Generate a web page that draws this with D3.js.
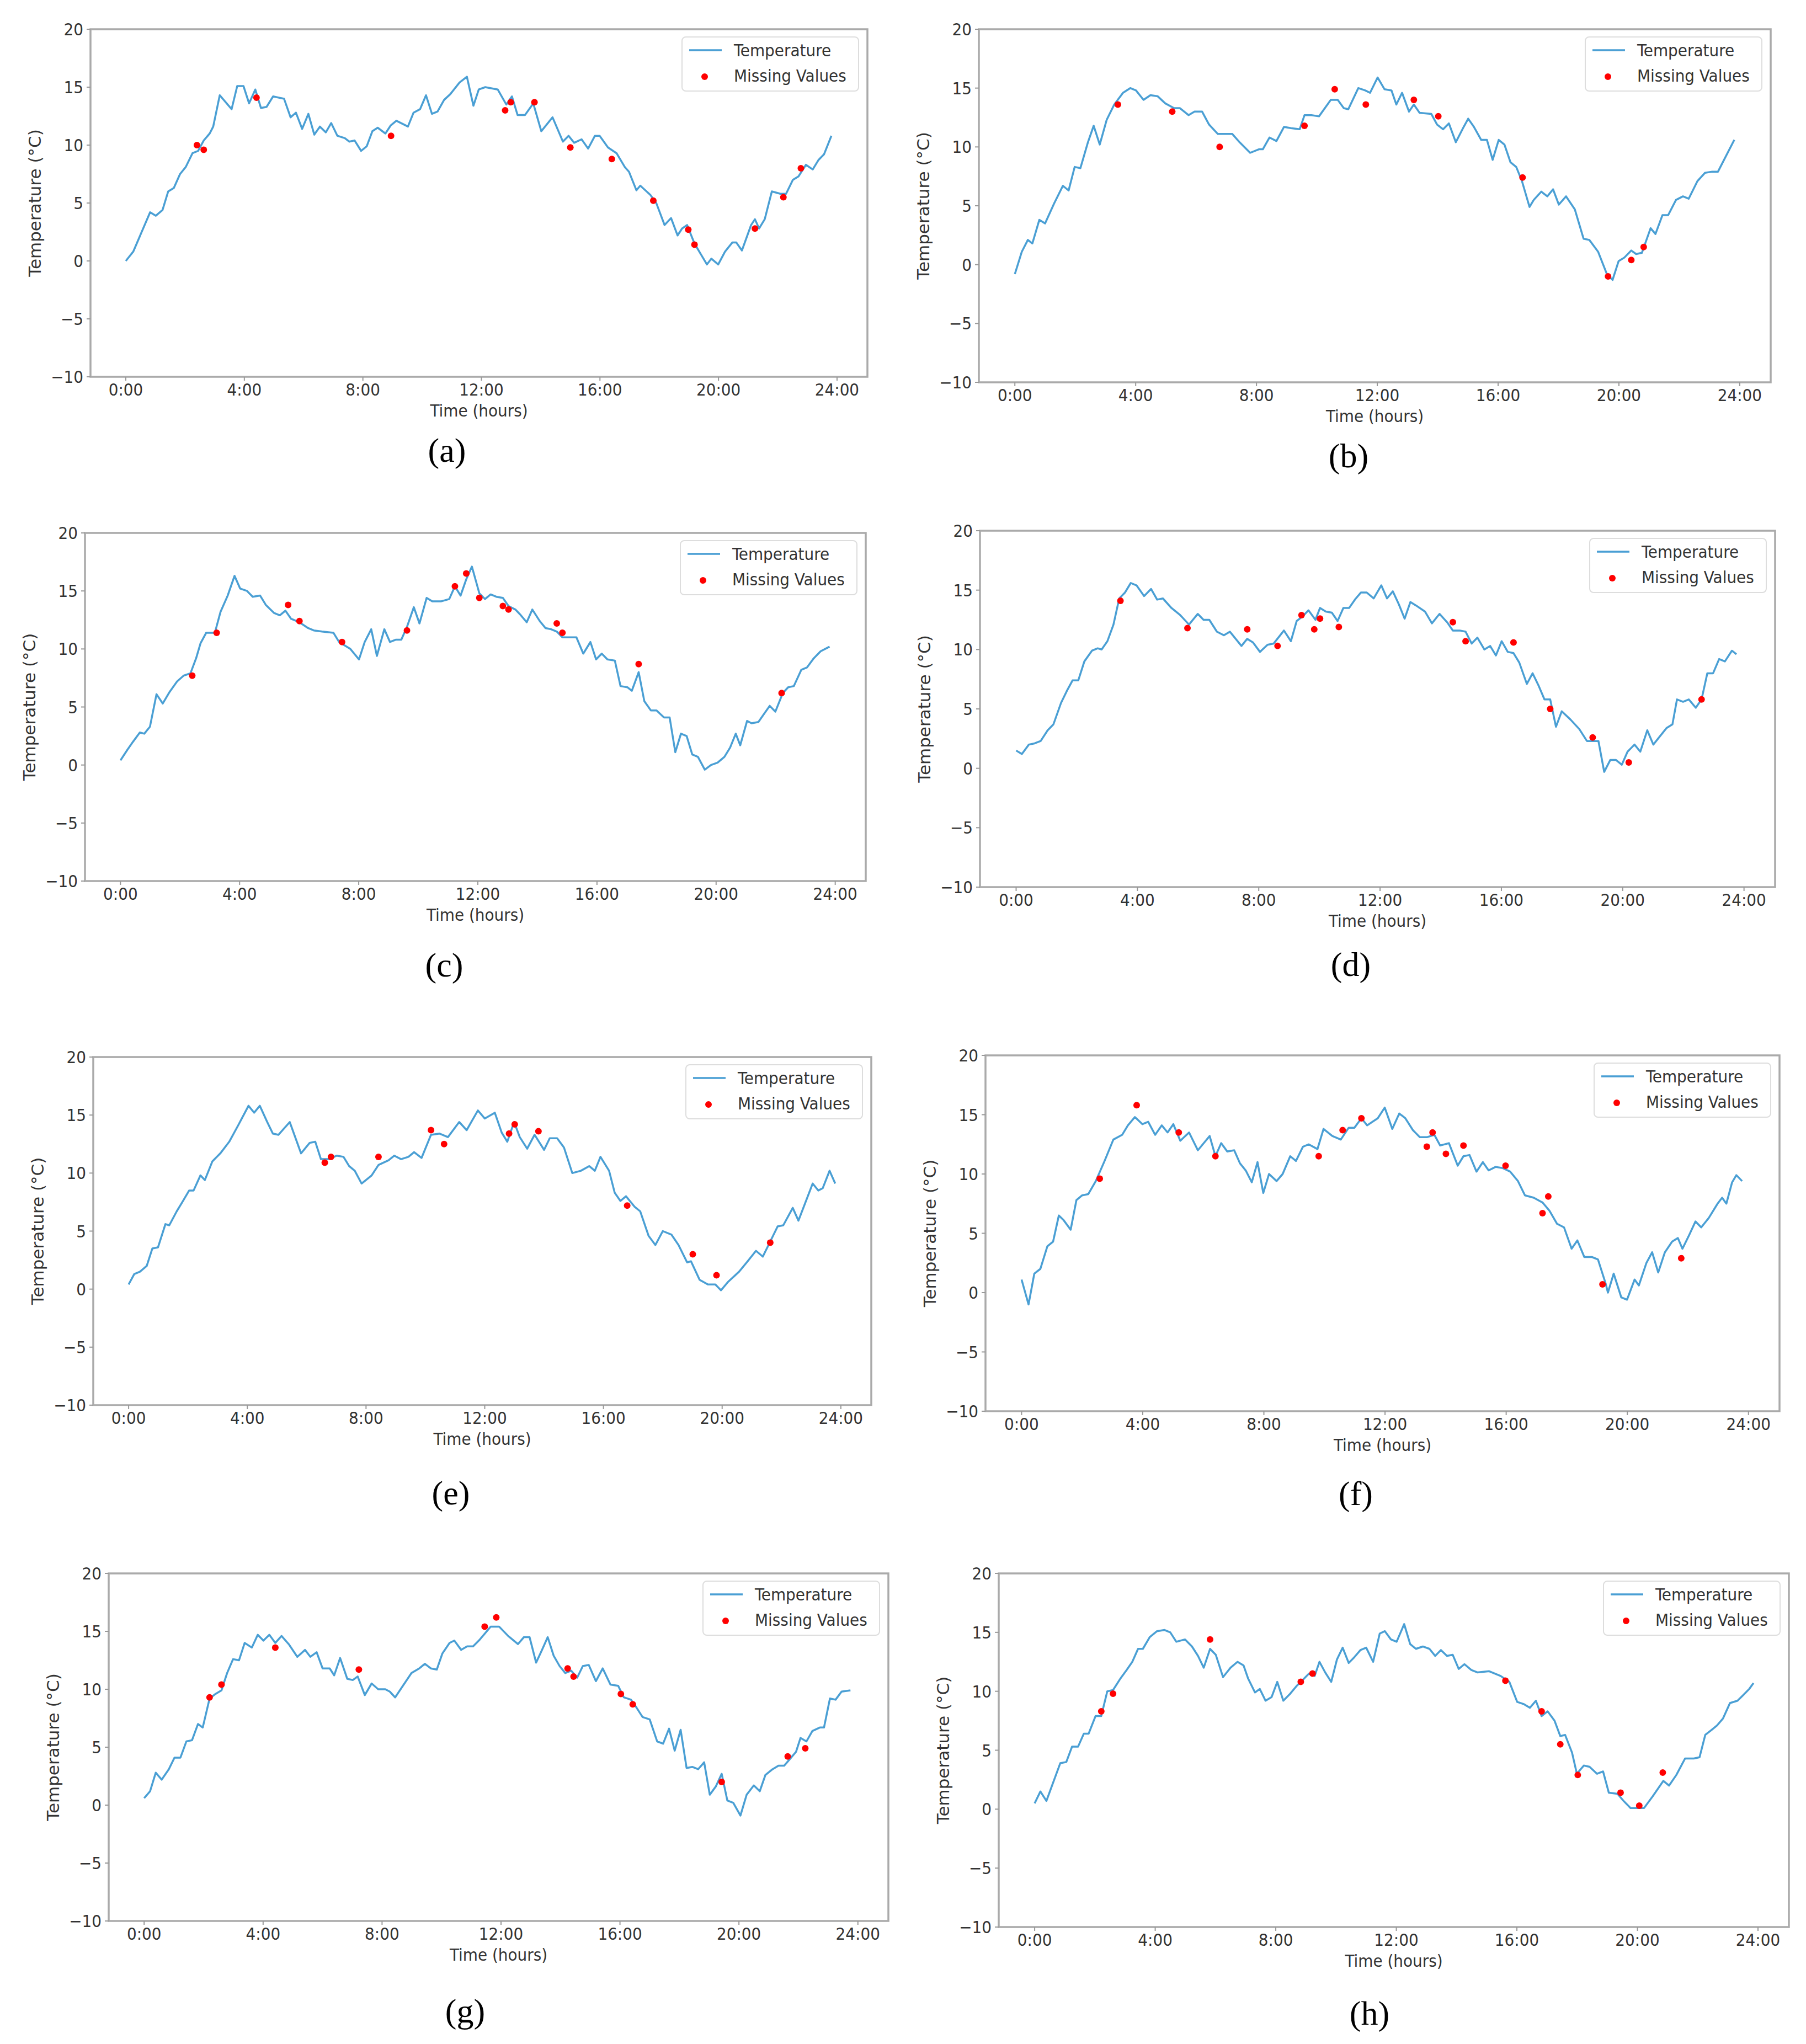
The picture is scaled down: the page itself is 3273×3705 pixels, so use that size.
<!DOCTYPE html>
<html>
<head>
<meta charset="utf-8">
<script src="https://cdn.jsdelivr.net/npm/d3@7"></script>
<style>
  body { margin: 0; background: #fff; }
</style>
</head>
<body>
<div id="chart"></div>
<script>
// temperature traces, [hour, degC]
const tempA = [[0,0],[0.25,0.8],[0.82,4.2],[1.01,3.9],[1.24,4.4],[1.43,6.0],[1.62,6.3],[1.83,7.5],[2.02,8.1],[2.25,9.3],[2.44,9.5],[2.63,10.4],[2.83,11.0],[2.95,11.6],[3.17,14.3],[3.57,13.1],[3.76,15.1],[3.97,15.1],[4.16,13.6],[4.37,14.8],[4.56,13.2],[4.75,13.3],[4.97,14.2],[5.34,14.0],[5.56,12.4],[5.74,12.8],[5.95,11.4],[6.16,12.7],[6.36,10.9],[6.55,11.6],[6.75,11.1],[6.93,11.9],[7.14,10.8],[7.39,10.6],[7.54,10.3],[7.72,10.4],[7.94,9.5],[8.13,9.9],[8.32,11.2],[8.5,11.5],[8.76,11.0],[8.94,11.7],[9.13,12.1],[9.52,11.6],[9.71,12.8],[9.93,13.1],[10.13,14.3],[10.33,12.7],[10.52,12.9],[10.74,13.9],[10.95,14.4],[11.26,15.4],[11.51,15.9],[11.73,13.4],[11.91,14.8],[12.13,15.0],[12.55,14.8],[12.84,13.5],[13.03,14.2],[13.22,12.6],[13.47,12.6],[13.75,13.6],[14.02,11.2],[14.4,12.4],[14.75,10.3],[14.94,10.8],[15.13,10.2],[15.38,10.5],[15.6,9.7],[15.83,10.8],[15.99,10.8],[16.27,9.8],[16.56,9.3],[16.84,8.1],[16.98,7.7],[17.23,6.1],[17.36,6.5],[17.7,5.7],[17.9,5.0],[18.18,3.1],[18.4,3.7],[18.62,2.2],[18.77,2.8],[18.94,3.1],[19.19,1.5],[19.61,-0.3],[19.76,0.2],[19.99,-0.3],[20.22,0.8],[20.47,1.6],[20.6,1.6],[20.79,0.9],[21.1,3.1],[21.23,3.6],[21.37,2.8],[21.56,3.6],[21.8,6.0],[22.09,5.8],[22.28,5.8],[22.51,7.0],[22.7,7.3],[22.95,8.3],[23.18,7.9],[23.37,8.7],[23.56,9.2],[23.81,10.8]]
const missA = [[2.4,10.0],[2.63,9.6],[4.41,14.1],[8.95,10.8],[12.8,13.0],[12.99,13.7],[13.79,13.7],[15.0,9.8],[16.4,8.8],[17.8,5.2],[18.98,2.7],[19.19,1.4],[21.23,2.8],[22.19,5.5],[22.78,8.0]]

const tempB = [[0,-0.8],[0.23,1.1],[0.43,2.1],[0.58,1.8],[0.81,3.8],[1.0,3.5],[1.3,5.2],[1.59,6.7],[1.78,6.3],[1.98,8.3],[2.17,8.2],[2.42,10.4],[2.61,11.8],[2.81,10.2],[3.04,12.3],[3.29,13.6],[3.58,14.6],[3.82,15.0],[4.01,14.8],[4.26,14.0],[4.49,14.4],[4.73,14.3],[4.98,13.7],[5.27,13.3],[5.46,13.3],[5.75,12.7],[5.95,13.0],[6.2,13.0],[6.43,11.9],[6.72,11.1],[7.01,11.1],[7.2,11.1],[7.44,10.4],[7.79,9.5],[8.08,9.8],[8.21,9.8],[8.43,10.8],[8.66,10.5],[8.91,11.7],[9.14,11.6],[9.43,11.5],[9.59,12.7],[9.82,12.7],[10.07,12.6],[10.46,14.0],[10.69,14.0],[10.89,13.3],[11.04,13.2],[11.37,15.0],[11.6,14.8],[11.76,14.6],[12.01,15.9],[12.24,14.9],[12.47,14.8],[12.63,13.6],[12.82,14.6],[13.05,13.0],[13.21,13.6],[13.4,12.9],[13.79,12.8],[13.98,11.9],[14.18,11.5],[14.37,12.0],[14.6,10.4],[14.86,11.7],[15.01,12.4],[15.2,11.7],[15.44,10.6],[15.63,10.6],[15.82,8.9],[16.02,10.6],[16.21,10.2],[16.41,8.7],[16.6,8.3],[16.79,7.1],[17.04,4.9],[17.18,5.5],[17.43,6.2],[17.63,5.8],[17.82,6.4],[18.01,5.1],[18.25,5.8],[18.54,4.7],[18.83,2.2],[19.02,2.1],[19.31,1.1],[19.6,-0.8],[19.79,-1.3],[19.99,0.3],[20.18,0.6],[20.41,1.2],[20.57,0.9],[20.76,1.0],[21.05,3.1],[21.21,2.6],[21.44,4.2],[21.63,4.2],[21.89,5.5],[22.12,5.8],[22.31,5.6],[22.6,7.1],[22.85,7.8],[23.09,7.9],[23.28,7.9],[23.82,10.6]]
const missB = [[3.41,13.6],[5.21,13.0],[6.78,10.0],[9.59,11.8],[10.59,14.9],[11.62,13.6],[13.21,14.0],[14.02,12.6],[16.81,7.4],[19.64,-1.0],[20.41,0.4],[20.82,1.5]]

const tempC = [[0,0.4],[0.23,1.3],[0.42,2.0],[0.65,2.8],[0.8,2.7],[0.99,3.3],[1.21,6.1],[1.42,5.3],[1.65,6.3],[1.9,7.2],[2.12,7.7],[2.35,7.9],[2.54,9.2],[2.69,10.5],[2.88,11.4],[3.17,11.4],[3.36,13.2],[3.6,14.6],[3.83,16.3],[4.02,15.2],[4.25,15.0],[4.44,14.5],[4.69,14.6],[4.88,13.8],[5.16,13.1],[5.35,12.9],[5.54,13.3],[5.73,12.6],[6.01,12.3],[6.3,11.8],[6.49,11.6],[6.77,11.5],[7.15,11.4],[7.34,10.6],[7.72,10.0],[8.01,9.1],[8.2,10.6],[8.42,11.7],[8.61,9.4],[8.86,11.7],[9.05,10.6],[9.24,10.8],[9.43,10.8],[9.62,11.9],[9.85,13.6],[10.04,12.2],[10.28,14.4],[10.47,14.1],[10.76,14.1],[11.04,14.3],[11.23,15.4],[11.42,14.6],[11.61,16.0],[11.8,17.1],[12.05,14.8],[12.24,14.3],[12.43,14.7],[12.62,14.5],[12.84,14.4],[13.03,13.7],[13.26,13.4],[13.41,13.0],[13.64,12.3],[13.83,13.4],[14.08,12.4],[14.27,11.8],[14.46,11.7],[14.65,11.5],[14.84,11.0],[15.12,11.0],[15.31,11.0],[15.54,9.6],[15.78,10.6],[15.97,9.1],[16.16,9.6],[16.35,9.1],[16.6,9.0],[16.79,6.8],[17.02,6.7],[17.17,6.4],[17.4,8.0],[17.59,5.5],[17.81,4.7],[18.0,4.7],[18.25,4.1],[18.44,4.1],[18.63,1.1],[18.82,2.7],[19.01,2.5],[19.2,0.9],[19.39,0.7],[19.62,-0.4],[19.83,0.0],[20.05,0.2],[20.28,0.7],[20.47,1.5],[20.66,2.7],[20.81,1.7],[21.04,3.8],[21.19,3.6],[21.42,3.7],[21.61,4.4],[21.8,5.1],[21.99,4.6],[22.24,6.2],[22.42,6.7],[22.61,6.8],[22.86,8.2],[23.05,8.4],[23.28,9.2],[23.51,9.8],[23.81,10.2]]
const missC = [[2.41,7.7],[3.23,11.4],[5.63,13.8],[6.01,12.4],[7.44,10.6],[9.62,11.6],[11.23,15.4],[11.61,16.5],[12.05,14.4],[12.84,13.7],[13.03,13.4],[14.65,12.2],[14.84,11.4],[17.4,8.7],[22.2,6.2]]

const tempD = [[0,1.5],[0.19,1.2],[0.42,2.0],[0.61,2.1],[0.81,2.3],[1.04,3.2],[1.23,3.7],[1.48,5.5],[1.67,6.5],[1.86,7.4],[2.05,7.4],[2.25,9.0],[2.5,9.9],[2.69,10.1],[2.82,10.0],[3.01,10.7],[3.21,12.1],[3.4,14.3],[3.59,14.8],[3.78,15.6],[3.97,15.4],[4.22,14.5],[4.45,15.1],[4.65,14.2],[4.84,14.3],[5.12,13.5],[5.41,12.9],[5.7,12.1],[5.99,13.0],[6.18,12.5],[6.37,12.5],[6.62,11.5],[6.85,11.2],[7.05,11.5],[7.43,10.3],[7.62,10.9],[7.81,10.6],[8.04,9.8],[8.29,10.4],[8.49,10.5],[8.83,11.6],[9.06,10.7],[9.25,12.4],[9.45,12.8],[9.64,13.3],[9.87,12.5],[10.02,13.5],[10.21,13.2],[10.41,13.1],[10.6,12.4],[10.79,13.5],[10.98,13.5],[11.17,14.2],[11.37,14.8],[11.56,14.8],[11.79,14.3],[12.04,15.4],[12.23,14.3],[12.42,14.9],[12.62,13.8],[12.81,12.6],[13.0,14.0],[13.19,13.7],[13.48,13.2],[13.71,12.2],[13.96,13.0],[14.21,12.3],[14.4,11.6],[14.63,11.6],[14.82,11.5],[15.02,10.5],[15.21,11.0],[15.44,10.0],[15.63,10.3],[15.82,9.5],[16.01,10.7],[16.21,9.8],[16.4,9.7],[16.59,8.9],[16.84,7.1],[17.03,8.0],[17.22,7.0],[17.42,5.8],[17.61,5.8],[17.8,3.5],[17.99,4.8],[18.28,4.1],[18.57,3.3],[18.82,2.3],[19.05,2.3],[19.2,2.3],[19.39,-0.3],[19.59,0.7],[19.78,0.7],[19.97,0.3],[20.16,1.4],[20.39,2.0],[20.58,1.4],[20.81,3.2],[21.01,2.0],[21.26,2.8],[21.45,3.4],[21.64,3.7],[21.79,5.8],[21.99,5.6],[22.18,5.8],[22.41,5.1],[22.6,5.8],[22.79,8.0],[22.98,8.0],[23.18,9.2],[23.37,9.0],[23.6,9.9],[23.75,9.6]]
const missD = [[3.44,14.1],[5.65,11.8],[7.62,11.7],[8.62,10.3],[9.41,12.9],[9.83,11.7],[10.02,12.6],[10.64,11.9],[14.4,12.3],[14.82,10.7],[16.4,10.6],[17.61,5.0],[19.01,2.6],[20.2,0.5],[22.6,5.8]]

const tempE = [[0,0.4],[0.19,1.3],[0.38,1.5],[0.61,2.0],[0.8,3.5],[0.99,3.6],[1.24,5.6],[1.37,5.5],[1.62,6.7],[1.81,7.5],[2.04,8.5],[2.19,8.5],[2.42,9.8],[2.57,9.4],[2.82,11.0],[3.09,11.7],[3.39,12.7],[3.71,14.2],[4.04,15.8],[4.23,15.2],[4.42,15.8],[4.67,14.4],[4.86,13.4],[5.05,13.3],[5.43,14.4],[5.81,11.7],[6.1,12.6],[6.29,12.7],[6.48,11.2],[6.76,11.2],[7.01,11.5],[7.24,11.4],[7.43,10.6],[7.62,10.2],[7.85,9.1],[8.19,9.8],[8.42,10.7],[8.76,11.1],[8.95,11.5],[9.18,11.2],[9.43,11.4],[9.62,11.8],[9.87,11.3],[10.19,13.3],[10.48,13.4],[10.76,13.1],[11.14,14.4],[11.39,13.7],[11.77,15.4],[12.0,14.7],[12.34,15.2],[12.57,13.5],[12.76,12.7],[12.99,14.4],[13.18,13.1],[13.43,12.1],[13.68,13.3],[14.0,12.0],[14.19,13.0],[14.44,13.0],[14.67,12.2],[14.95,10.0],[15.24,10.2],[15.52,10.6],[15.71,10.2],[15.9,11.4],[16.19,10.2],[16.38,8.3],[16.57,7.6],[16.76,8.0],[17.05,7.1],[17.24,6.7],[17.52,4.6],[17.75,3.8],[18.0,5.0],[18.29,4.7],[18.53,3.8],[18.82,2.3],[18.95,2.4],[19.24,0.8],[19.52,0.4],[19.77,0.4],[19.96,-0.1],[20.19,0.6],[20.57,1.5],[20.86,2.4],[21.14,3.3],[21.37,2.8],[21.62,4.1],[21.87,5.4],[22.06,5.5],[22.38,7.0],[22.57,5.9],[23.05,9.1],[23.24,8.5],[23.39,8.7],[23.62,10.2],[23.81,9.1]]
const missE = [[6.61,10.9],[6.82,11.4],[8.42,11.4],[10.19,13.7],[10.63,12.5],[12.82,13.4],[13.01,14.2],[13.81,13.6],[16.8,7.2],[19.01,3.0],[19.81,1.2],[21.62,4.0]]

const tempF = [[0,1.1],[0.23,-1.0],[0.42,1.6],[0.62,2.0],[0.85,3.9],[1.04,4.3],[1.23,6.5],[1.39,6.1],[1.62,5.3],[1.81,7.8],[2.0,8.2],[2.2,8.3],[2.45,9.4],[2.74,11.1],[3.03,12.9],[3.32,13.3],[3.51,14.1],[3.74,14.8],[3.99,14.2],[4.18,14.4],[4.41,13.3],[4.63,14.1],[4.82,13.5],[5.01,14.2],[5.24,12.8],[5.53,13.5],[5.82,12.0],[6.21,13.2],[6.4,11.5],[6.59,12.6],[6.79,11.9],[7.02,12.0],[7.21,10.9],[7.4,10.3],[7.6,9.3],[7.79,11.0],[7.98,8.4],[8.17,10.0],[8.42,9.4],[8.62,10.0],[8.87,11.5],[9.06,11.1],[9.29,12.3],[9.48,12.5],[9.77,12.1],[9.97,13.8],[10.26,13.2],[10.54,12.9],[10.8,13.9],[10.99,13.9],[11.22,14.7],[11.41,14.1],[11.76,14.7],[11.99,15.6],[12.24,13.8],[12.47,15.1],[12.67,14.7],[12.92,13.7],[13.15,13.1],[13.38,13.1],[13.63,13.3],[13.82,12.4],[14.11,12.6],[14.4,10.7],[14.59,11.5],[14.79,11.6],[15.02,10.2],[15.23,11.0],[15.42,10.3],[15.65,10.6],[15.88,10.5],[16.13,10.2],[16.39,9.4],[16.62,8.2],[16.91,8.0],[17.2,7.6],[17.43,6.9],[17.68,5.8],[17.91,5.5],[18.16,3.7],[18.35,4.4],[18.58,3.0],[18.83,3.0],[19.03,2.8],[19.28,0.8],[19.36,0.0],[19.55,1.6],[19.8,-0.4],[19.99,-0.6],[20.24,1.1],[20.38,0.6],[20.63,2.5],[20.82,3.4],[21.02,1.7],[21.24,3.4],[21.48,4.3],[21.67,4.6],[21.82,3.7],[22.05,4.9],[22.25,6.0],[22.44,5.5],[22.69,6.3],[22.98,7.5],[23.13,8.0],[23.27,7.5],[23.46,9.3],[23.6,9.9],[23.79,9.4]]
const missF = [[2.58,9.6],[3.8,15.8],[5.19,13.5],[6.4,11.5],[9.81,11.5],[10.6,13.7],[11.22,14.7],[13.38,12.3],[13.57,13.5],[14.01,11.7],[14.59,12.4],[15.98,10.7],[17.2,6.7],[17.39,8.1],[19.18,0.7],[21.78,2.9]]

const tempG = [[0,0.6],[0.2,1.2],[0.39,2.8],[0.59,2.2],[0.83,3.1],[1.02,4.1],[1.22,4.1],[1.42,5.5],[1.61,5.6],[1.81,7.0],[1.97,6.7],[2.2,9.2],[2.4,9.6],[2.6,9.9],[2.79,11.4],[2.99,12.6],[3.19,12.5],[3.38,14.0],[3.62,13.6],[3.82,14.7],[4.01,14.2],[4.21,14.7],[4.41,14.0],[4.62,14.6],[4.86,13.9],[5.15,12.8],[5.41,13.4],[5.59,12.8],[5.8,13.2],[6.0,11.8],[6.24,11.8],[6.39,11.2],[6.59,12.7],[6.83,10.9],[7.02,10.8],[7.18,11.1],[7.42,9.5],[7.65,10.5],[7.87,10.0],[8.11,10.0],[8.26,9.8],[8.44,9.3],[8.7,10.3],[8.99,11.4],[9.25,11.8],[9.44,12.2],[9.64,11.8],[9.84,11.7],[10.03,13.1],[10.27,14.0],[10.43,14.2],[10.66,13.4],[10.86,13.7],[11.06,13.7],[11.29,14.3],[11.65,15.4],[11.94,15.4],[12.24,14.6],[12.57,13.9],[12.77,14.5],[12.96,14.5],[13.18,12.3],[13.38,13.4],[13.57,14.5],[13.77,12.9],[13.97,12.0],[14.16,11.4],[14.36,11.6],[14.56,11.0],[14.75,12.0],[14.95,12.1],[15.19,10.7],[15.42,11.8],[15.68,10.4],[15.94,10.3],[16.13,9.3],[16.37,9.1],[16.56,8.4],[16.76,7.6],[17.0,7.4],[17.25,5.5],[17.45,5.3],[17.65,6.6],[17.84,4.7],[18.04,6.5],[18.24,3.2],[18.43,3.3],[18.63,3.1],[18.83,3.7],[19.02,0.9],[19.22,1.6],[19.42,2.7],[19.61,0.4],[19.81,0.2],[20.05,-0.9],[20.26,0.9],[20.5,1.7],[20.7,1.2],[20.89,2.6],[21.13,3.1],[21.33,3.4],[21.52,3.4],[21.72,4.0],[21.92,4.6],[22.07,5.8],[22.27,5.5],[22.47,6.4],[22.72,6.7],[22.86,6.7],[23.06,9.2],[23.25,9.1],[23.45,9.8],[23.75,9.9]]
const missG = [[2.2,9.3],[2.6,10.4],[4.41,13.6],[7.22,11.7],[11.45,15.4],[11.84,16.2],[14.24,11.8],[14.44,11.1],[16.03,9.6],[16.43,8.7],[19.42,2.0],[21.64,4.2],[22.23,4.9]]

const tempH = [[0,0.5],[0.19,1.5],[0.39,0.7],[0.62,2.3],[0.85,3.9],[1.05,4.0],[1.24,5.3],[1.44,5.3],[1.63,6.4],[1.79,6.4],[2.02,7.9],[2.21,7.9],[2.41,10.0],[2.6,10.1],[2.85,11.1],[3.05,11.8],[3.24,12.5],[3.43,13.6],[3.59,13.6],[3.82,14.6],[4.06,15.1],[4.31,15.2],[4.5,15.0],[4.7,14.2],[4.99,14.4],[5.22,13.8],[5.42,13.0],[5.61,12.0],[5.82,13.6],[6.01,13.1],[6.25,11.2],[6.5,12.0],[6.73,12.5],[6.93,12.2],[7.08,11.1],[7.31,9.9],[7.47,10.2],[7.66,9.2],[7.86,9.5],[8.05,10.8],[8.25,9.2],[8.48,9.8],[8.71,10.5],[8.91,11.0],[9.1,11.5],[9.29,11.3],[9.45,12.5],[9.64,11.6],[9.84,10.8],[10.03,12.7],[10.22,13.7],[10.42,12.4],[10.61,12.9],[10.81,13.5],[11.0,13.7],[11.23,12.5],[11.45,14.9],[11.62,15.1],[11.82,14.4],[12.01,14.2],[12.26,15.7],[12.46,14.0],[12.65,13.6],[12.88,13.8],[13.1,13.6],[13.29,13.0],[13.48,13.5],[13.68,13.0],[13.87,13.1],[14.07,11.9],[14.26,12.3],[14.49,11.8],[14.69,11.6],[15.08,11.7],[15.46,11.3],[15.75,10.8],[16.01,9.1],[16.24,8.9],[16.43,8.6],[16.63,9.2],[16.82,7.9],[17.02,8.3],[17.25,7.5],[17.44,6.2],[17.6,6.3],[17.83,4.8],[17.99,3.0],[18.22,3.7],[18.41,3.6],[18.66,3.0],[18.86,3.2],[19.05,1.4],[19.34,1.3],[19.54,0.7],[19.77,0.1],[20.02,0.1],[20.22,0.1],[20.51,1.1],[20.86,2.4],[21.05,2.0],[21.29,2.9],[21.58,4.3],[21.87,4.3],[22.06,4.4],[22.25,6.3],[22.45,6.7],[22.64,7.1],[22.84,7.7],[23.07,9.0],[23.32,9.2],[23.52,9.7],[23.71,10.2],[23.85,10.7]]
const missH = [[2.21,8.3],[2.6,9.8],[5.82,14.4],[8.83,10.8],[9.22,11.5],[15.62,10.9],[16.82,8.3],[17.44,5.5],[18.02,2.9],[19.44,1.4],[20.06,0.3],[20.84,3.1]]

const captions = ["(a)", "(b)", "(c)", "(d)", "(e)", "(f)", "(g)", "(h)"]
const yTicks = [-10, -5, 0, 5, 10, 15, 20]
const xTicks = [0, 4, 8, 12, 16, 20, 24]
const legendLabels = ["Temperature", "Missing Values"]

const temps = [tempA, tempB, tempC, tempD, tempE, tempF, tempG, tempH]
const missing = [missA, missB, missC, missD, missE, missF, missG, missH]

// axes boxes on the page (l, r, t, b) and caption centre
const boxes = [
	{l: 164, r: 1572, t: 53, b: 683, cx: 810, cy: 823},
	{l: 1774, r: 3209, t: 53, b: 693, cx: 2444, cy: 833},
	{l: 154, r: 1569, t: 966, b: 1597, cx: 805, cy: 1756},
	{l: 1776, r: 3217, t: 962, b: 1608, cx: 2448, cy: 1755},
	{l: 169, r: 1579, t: 1916, b: 2547, cx: 817, cy: 2713},
	{l: 1786, r: 3225, t: 1913, b: 2558, cx: 2457, cy: 2714},
	{l: 197, r: 1610, t: 2852, b: 3482, cx: 843, cy: 3652},
	{l: 1810, r: 3242, t: 2852, b: 3493, cx: 2482, cy: 3656}
]

const lineColor = "#4a9fd4"
const dotColor = "#ff0000"
const textColor = "#333"
const spineColor = "#aaa"
const tickFont = "'DejaVu Sans Condensed', 'DejaVu Sans', sans-serif"

const svg = d3.select("#chart")
	.append("svg")
		.attr("width", 3273)
		.attr("height", 3705)
		.style("background", "#fff")

boxes.forEach((bx, i) => {
	const g = svg.append("g")

	// matplotlib style limits: data 0..23.83 h with 5% margins
	const x = d3.scaleLinear().domain([-1.1917, 25.025]).range([bx.l, bx.r])
	const y = d3.scaleLinear().domain([-10, 20]).range([bx.b, bx.t])

	// frame
	g.append("rect")
		.attr("x", bx.l).attr("y", bx.t)
		.attr("width", bx.r - bx.l).attr("height", bx.b - bx.t)
		.attr("fill", "none")
		.attr("stroke", spineColor)
		.attr("stroke-width", 3.5)

	// x ticks
	const xa = g.append("g")
	xa.selectAll("line").data(xTicks).join("line")
		.attr("x1", d => x(d)).attr("x2", d => x(d))
		.attr("y1", bx.b).attr("y2", bx.b + 7)
		.attr("stroke", "#999").attr("stroke-width", 2)
	xa.selectAll("text").data(xTicks).join("text")
		.attr("x", d => x(d)).attr("y", bx.b + 34)
		.attr("text-anchor", "middle")
		.style("font-family", tickFont).style("font-size", "31px")
		.attr("fill", textColor)
		.text(d => d + ":00")

	// y ticks
	const ya = g.append("g")
	ya.selectAll("line").data(yTicks).join("line")
		.attr("x1", bx.l - 7).attr("x2", bx.l)
		.attr("y1", d => y(d)).attr("y2", d => y(d))
		.attr("stroke", "#999").attr("stroke-width", 2)
	ya.selectAll("text").data(yTicks).join("text")
		.attr("x", bx.l - 13).attr("y", d => y(d))
		.attr("dy", "0.36em")
		.attr("text-anchor", "end")
		.style("font-family", tickFont).style("font-size", "31px")
		.attr("fill", textColor)
		.text(d => d < 0 ? "\u2212" + Math.abs(d) : d)

	// axis labels
	g.append("text")
		.attr("x", (bx.l + bx.r) / 2).attr("y", bx.b + 72)
		.attr("text-anchor", "middle")
		.style("font-family", tickFont).style("font-size", "31px")
		.attr("fill", textColor)
		.text("Time (hours)")
	g.append("text")
		.attr("transform", `translate(${bx.l - 101},${(bx.t + bx.b) / 2}) rotate(-90)`)
		.attr("dy", "0.36em")
		.attr("text-anchor", "middle")
		.style("font-family", "'DejaVu Sans', sans-serif").style("font-size", "31px")
		.attr("fill", textColor)
		.text("Temperature (\u00b0C)")

	// the temperature line
	const line = d3.line().x(d => x(d[0])).y(d => y(d[1]))
	g.append("path")
		.datum(temps[i])
		.attr("d", line)
		.attr("fill", "none")
		.attr("stroke", lineColor)
		.attr("stroke-width", 3.5)
		.attr("stroke-linejoin", "round")

	// missing values
	g.selectAll("circle.miss").data(missing[i]).join("circle")
		.attr("class", "miss")
		.attr("cx", d => x(d[0])).attr("cy", d => y(d[1]))
		.attr("r", 6)
		.attr("fill", dotColor)

	// legend, upper right
	const lg = g.append("g").attr("transform", `translate(${bx.r - 336},${bx.t + 14})`)
	lg.append("rect")
		.attr("width", 320).attr("height", 98).attr("rx", 7)
		.attr("fill", "#fff").attr("fill-opacity", 0.85)
		.attr("stroke", "#ddd").attr("stroke-width", 2)
	lg.append("line")
		.attr("x1", 13).attr("x2", 72).attr("y1", 24).attr("y2", 24)
		.attr("stroke", lineColor).attr("stroke-width", 3.5)
	lg.append("circle")
		.attr("cx", 41).attr("cy", 72).attr("r", 6)
		.attr("fill", dotColor)
	lg.selectAll("text").data(legendLabels).join("text")
		.attr("x", 94).attr("y", (d, k) => 24 + k * 46)
		.attr("dy", "0.36em")
		.style("font-family", tickFont).style("font-size", "31px")
		.attr("fill", textColor)
		.text(d => d)

	// panel caption
	g.append("text")
		.attr("x", bx.cx).attr("y", bx.cy)
		.attr("dominant-baseline", "middle")
		.attr("text-anchor", "middle")
		.style("font-family", "'Liberation Serif', 'Times New Roman', serif")
		.style("font-size", "62px")
		.attr("fill", "#000")
		.text(captions[i])
})
</script>
</body>
</html>
